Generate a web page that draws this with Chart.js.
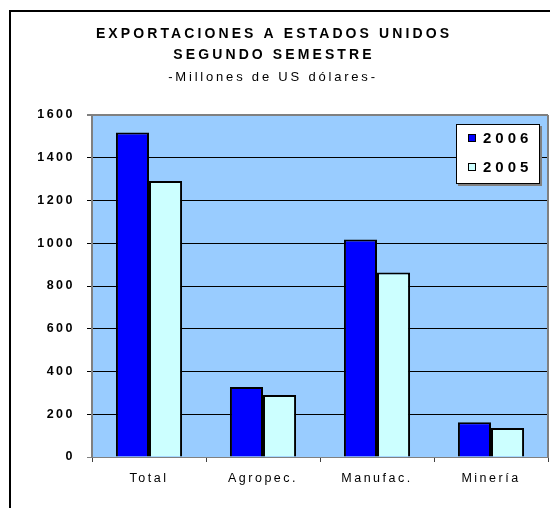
<!DOCTYPE html>
<html>
<head>
<meta charset="utf-8">
<script src="https://cdn.jsdelivr.net/npm/chart.js@4/dist/chart.umd.min.js"></script>
<style>
  html, body { margin: 0; padding: 0; background: #fff; }
  #wrap { width: 550px; height: 508px; }
</style>
</head>
<body>
<div id="wrap"><canvas id="chart" width="550" height="508"></canvas></div>
<script>
// chart data
const categories = ["Total", "Agropec.", "Manufac.", "Minería"];
const values2006 = [1518, 327, 1018, 162];
const values2005 = [1291, 290, 863, 136];
const seriesLabels = ["2006", "2005"];
const titleLines = ["EXPORTACIONES A ESTADOS UNIDOS", "SEGUNDO SEMESTRE"];
const subtitleText = "-Millones de US dólares-";

const FONT = "Arial, 'Liberation Sans', sans-serif";

// draws the frame, plot background, titles and the boxed legend
const decorations = {
    id: 'decorations',
    beforeDraw(chart) {
        const ctx = chart.ctx;
        const a = chart.chartArea;
        ctx.save();
        // outer frame (only left and top are visible in the picture)
        ctx.strokeStyle = '#000';
        ctx.lineWidth = 2;
        ctx.beginPath();
        ctx.moveTo(10, 508);
        ctx.lineTo(10, 11);
        ctx.lineTo(550, 11);
        ctx.stroke();
        // plot background
        ctx.fillStyle = '#99CCFF';
        ctx.fillRect(a.left, a.top, a.right - a.left, a.bottom - a.top);
        ctx.restore();
        // spaced-out lettering used for the tick labels
        ctx.letterSpacing = '2.5px';
    },
    afterDraw(chart) {
        const ctx = chart.ctx;
        const a = chart.chartArea;
        ctx.save();
        // right edge of the plot
        ctx.strokeStyle = '#808080';
        ctx.lineWidth = 2;
        ctx.beginPath();
        ctx.moveTo(a.right, a.top);
        ctx.lineTo(a.right, a.bottom);
        ctx.stroke();

        // titles
        ctx.fillStyle = '#000';
        ctx.textAlign = 'center';
        ctx.textBaseline = 'middle';
        ctx.font = 'bold 14px ' + FONT;
        ctx.letterSpacing = '3.1px';
        ctx.fillText(titleLines[0], 274, 34);
        ctx.fillText(titleLines[1], 274, 55);
        ctx.font = '13px ' + FONT;
        ctx.letterSpacing = '2.8px';
        ctx.fillText(subtitleText, 273, 77);

        // legend box inside the plot
        const bx = 456, by = 124, bw = 84, bh = 60;
        ctx.fillStyle = '#808080';
        ctx.fillRect(bx + 2, by + 2, bw, bh);
        ctx.fillStyle = '#fff';
        ctx.fillRect(bx, by, bw, bh);
        ctx.strokeStyle = '#000';
        ctx.lineWidth = 1;
        ctx.strokeRect(bx + 0.5, by + 0.5, bw - 1, bh - 1);
        ctx.font = 'bold 15px ' + FONT;
        ctx.letterSpacing = '4px';
        ctx.textAlign = 'left';
        chart.data.datasets.forEach((ds, i) => {
            const cy = by + 14 + i * 29;
            ctx.fillStyle = ds.backgroundColor;
            ctx.fillRect(468, cy - 4, 8, 8);
            ctx.strokeRect(468.5, cy - 3.5, 7, 7);
            ctx.fillStyle = '#000';
            ctx.fillText(ds.label, 483, cy + 1);
        });
        ctx.restore();
        ctx.letterSpacing = '0px';
    }
};

new Chart(document.getElementById('chart'), {
    type: 'bar',
    data: {
        labels: categories,
        datasets: [
            { label: seriesLabels[0], data: values2006, backgroundColor: '#0000FF', borderColor: '#000', borderWidth: 2 },
            { label: seriesLabels[1], data: values2005, backgroundColor: '#CCFFFF', borderColor: '#000', borderWidth: 2 }
        ]
    },
    options: {
        responsive: false,
        animation: false,
        layout: { padding: { top: 115, right: 2, left: 0, bottom: 0 } },
        datasets: { bar: { categoryPercentage: 0.58, barPercentage: 1.0 } },
        plugins: {
            legend: { display: false },
            title: { display: false },
            tooltip: { enabled: false }
        },
        scales: {
            x: {
                afterFit(scale) { scale.height = 51; },
                grid: { drawOnChartArea: false, tickLength: 5, color: '#404040', offset: true },
                border: { color: '#808080', width: 1 },
                ticks: { color: '#000', padding: 9, font: { family: FONT, size: 12.5 } }
            },
            y: {
                min: 0,
                max: 1600,
                afterFit(scale) { scale.width = 92; },
                grid: {
                    tickLength: 5,
                    color: (c) => (c.tick && (c.tick.value === 0 || c.tick.value === 1600)) ? '#808080' : '#000',
                    lineWidth: (c) => (c.tick && c.tick.value === 1600) ? 2 : 1
                },
                border: { color: '#808080', width: 2 },
                ticks: {
                    stepSize: 200,
                    color: '#000',
                    padding: 12,
                    font: { family: FONT, size: 12.5, weight: 'bold' },
                    callback: (v) => String(v)
                }
            }
        }
    },
    plugins: [decorations]
});
</script>
</body>
</html>
